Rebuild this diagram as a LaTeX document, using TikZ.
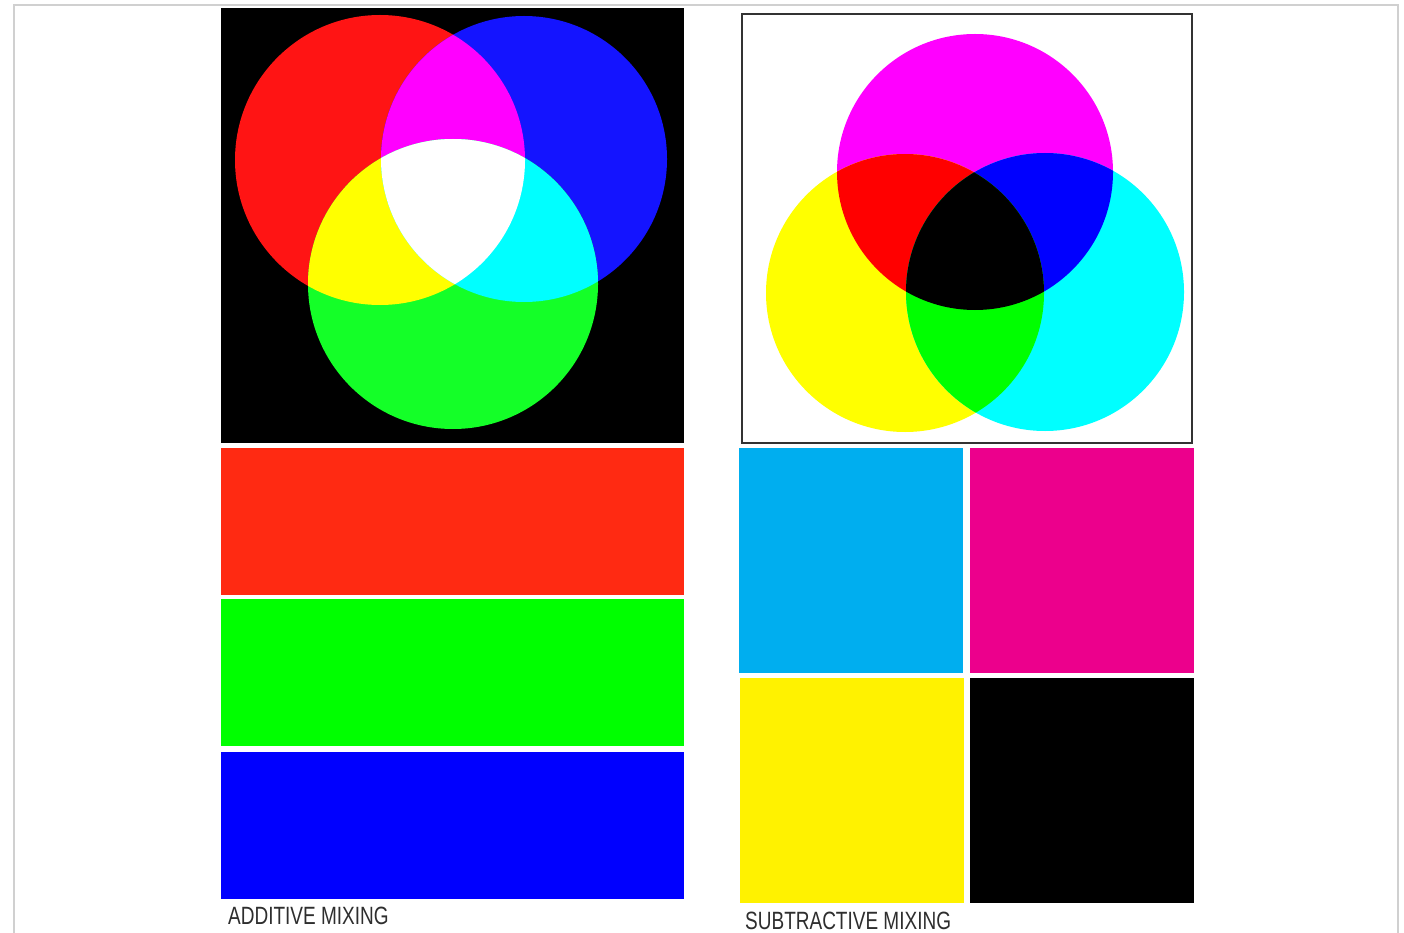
\documentclass[tikz,border=0pt]{standalone}
\usepackage{fontspec}
\setmainfont{Liberation Sans}
\definecolor{aR}{HTML}{FF1414}
\definecolor{aG}{HTML}{14FF28}
\definecolor{aB}{HTML}{1414FF}
\definecolor{aM}{HTML}{FF00FF}
\definecolor{aY}{HTML}{FFFF00}
\definecolor{aC}{HTML}{00FFFF}
\definecolor{barR}{HTML}{FF2A12}
\definecolor{barG}{HTML}{00FF00}
\definecolor{barB}{HTML}{0000FF}
\definecolor{pC}{HTML}{00AEEF}
\definecolor{pM}{HTML}{EC008C}
\definecolor{pY}{HTML}{FFF200}
\definecolor{labelgray}{HTML}{2E2E2E}
\definecolor{framegray}{HTML}{D0D0D0}
\tikzset{
  pageframe/.style={draw=framegray, line width=1.6pt},
  boxframe/.style={draw=black!80, line width=1.4pt},
  caption/.style={anchor=base west, inner sep=0pt, text=labelgray, font=\fontsize{25}{25}\selectfont}
}
\begin{document}
\begin{tikzpicture}[x=1pt,y=-1pt]
\useasboundingbox (0,0) rectangle (1404,933);
\fill[white] (0,0) rectangle (1404,933);
\draw[pageframe] (14,945) -- (14,5) -- (1398,5) -- (1398,945);

% ---------- additive ----------
\fill[black] (221,8) rectangle (684,443);
\fill[aR] (380,160) circle[radius=145pt];
\fill[aB] (524,159) circle[radius=143pt];
\fill[aG] (453,284) circle[radius=145pt];
\begin{scope}
  \clip (380,160) circle[radius=145pt];
  \fill[aM] (524,159) circle[radius=143pt];
  \fill[aY] (453,284) circle[radius=145pt];
\end{scope}
\begin{scope}
  \clip (524,159) circle[radius=143pt];
  \fill[aC] (453,284) circle[radius=145pt];
\end{scope}
\begin{scope}
  \clip (380,160) circle[radius=145pt];
  \clip (524,159) circle[radius=143pt];
  \fill[white] (453,284) circle[radius=145pt];
\end{scope}

\fill[barR] (221,448) rectangle (684,595);
\fill[barG] (221,599) rectangle (684,746);
\fill[barB] (221,752) rectangle (684,899);
\node[caption] (addlabel) at (228,924) {\scalebox{0.76}[1]{ADDITIVE MIXING}};

% ---------- subtractive ----------
\draw[boxframe] (742,14) rectangle (1192,443);
\fill[aM] (975,172) circle[radius=138pt];
\fill[aY] (905,293) circle[radius=139pt];
\fill[aC] (1045,292) circle[radius=139pt];
\begin{scope}
  \clip (975,172) circle[radius=138pt];
  \fill[red] (905,293) circle[radius=139pt];
  \fill[blue] (1045,292) circle[radius=139pt];
\end{scope}
\begin{scope}
  \clip (905,293) circle[radius=139pt];
  \fill[green] (1045,292) circle[radius=139pt];
\end{scope}
\begin{scope}
  \clip (975,172) circle[radius=138pt];
  \clip (905,293) circle[radius=139pt];
  \fill[black] (1045,292) circle[radius=139pt];
\end{scope}

\fill[pC] (739,448) rectangle (963,673);
\fill[pM] (970,448) rectangle (1194,673);
\fill[pY] (740,678) rectangle (964,903);
\fill[black] (970,678) rectangle (1194,903);
\node[caption] (sublabel) at (745,929) {\scalebox{0.76}[1]{SUBTRACTIVE MIXING}};
\end{tikzpicture}
\end{document}
